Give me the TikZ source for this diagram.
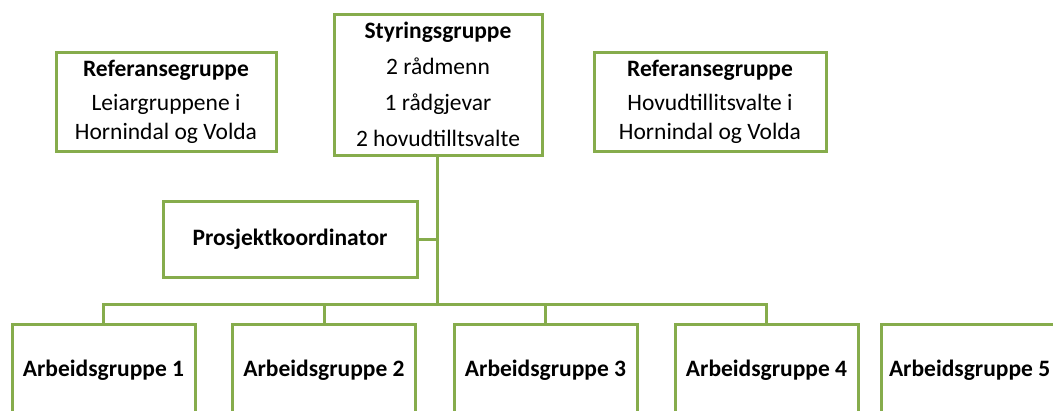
\documentclass[tikz,border=0pt]{standalone}
\usepackage{fontspec}
\setmainfont{Carlito}
\usepackage{tikz}
\usetikzlibrary{calc, positioning}

\definecolor{boxgreen}{RGB}{134,172,76}

\begin{document}
\begin{tikzpicture} [x = 1pt, y = -1pt,
        gbox/.style = {draw = boxgreen, line width = 3pt, fill = white, align = center, inner sep = 0pt},
        gline/.style = {draw = boxgreen, line width = 3pt},
        arbeid/.style = {gbox, font = \bfseries, minimum width = 183pt, text height = 52pt, text depth = 60pt, anchor = north}]
        \useasboundingbox (0,0) rectangle (1053,410);
        \fontsize{23.5}{28}\selectfont
        % top row
        \node[gbox, minimum width = 208pt, minimum height = 141pt, font = \fontsize{23.5}{36}\selectfont] (styr) at (438,84.5)
            {\textbf{Styringsgruppe}\\2 rådmenn\\1 rådgjevar\\2 hovudtilltsvalte};
        \node[gbox, minimum width = 220pt, minimum height = 99pt, font = \fontsize{23.5}{29}\selectfont] (refL) at (166,101.5)
            {\textbf{Referansegruppe}\\[5pt]Leiargruppene i\\Hornindal og Volda};
        \node[gbox, minimum width = 232pt, minimum height = 99pt, font = \fontsize{23.5}{29}\selectfont] (refR) at (710,101.5)
            {\textbf{Referansegruppe}\\[5pt]Hovudtillitsvalte i\\Hornindal og Volda};
        \node[gbox, minimum width = 254pt, minimum height = 76pt, font = \bfseries] (prosj) at (290,239) {Prosjektkoordinator};
        % work groups
        \node[arbeid] (arb1) at (103.5,323) {Arbeidsgruppe 1};
        \node[arbeid] (arb2) at (324,323) {Arbeidsgruppe 2};
        \node[arbeid] (arb3) at (545.5,323) {Arbeidsgruppe 3};
        \node[arbeid] (arb4) at (766.5,323) {Arbeidsgruppe 4};
        \node[arbeid, anchor = north west] (arb5) at (880,323) {\makebox[176pt][l]{\hspace*{4pt}Arbeidsgruppe 5}};
        % connectors
        \coordinate (bus) at (437,304);
        \draw[gline] (styr.south -| bus) -- (bus);
        \draw[gline] (prosj.east) -- (prosj.east -| bus);
        \draw[gline] (arb1.north) |- (bus) -| (arb4.north);
        \draw[gline] (arb2.north) -- (arb2.north |- bus);
        \draw[gline] (arb3.north) -- (arb3.north |- bus);
    \end{tikzpicture}
\end{document}
